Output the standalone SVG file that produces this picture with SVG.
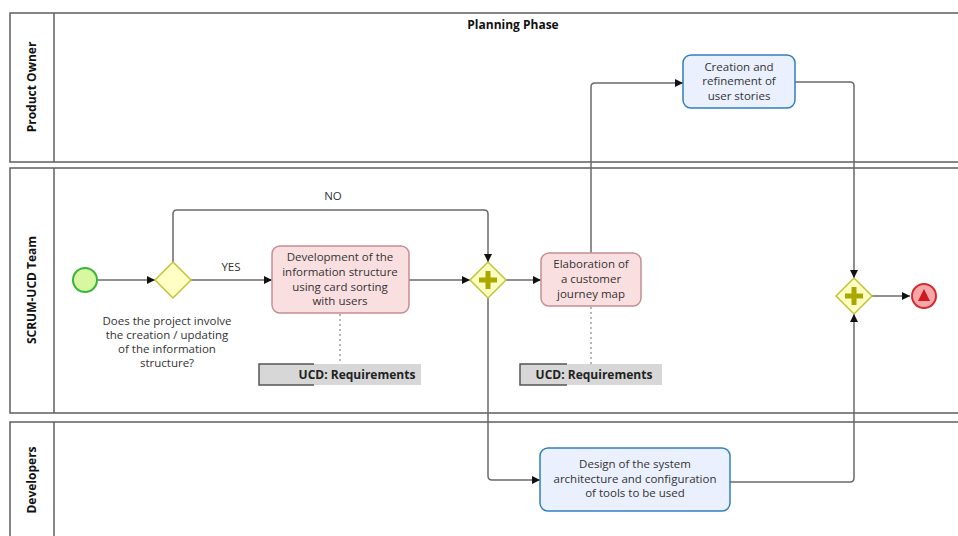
<svg xmlns="http://www.w3.org/2000/svg" width="958" height="536" viewBox="0 0 958 536">
  <style>
    .lane { fill: #ffffff; stroke: #5f5f5f; stroke-width: 1.5; }
    .lanetitle { font-family: "Open Sans", "Liberation Sans", sans-serif; font-size: 12px; font-weight: bold; fill: #111; text-anchor: middle; }
    .label { font-family: "Open Sans", "Liberation Sans", sans-serif; font-size: 11.5px; fill: #333; text-anchor: middle; }
    .task-ucd { fill: #fadfe1; stroke: #c48e92; stroke-width: 1.5; }
    .task-it { fill: #eaf0fd; stroke: #2f7fbf; stroke-width: 1.5; }
    .gw { fill: #ffffc4; stroke: #c3c33a; stroke-width: 1.5; }
    .plus { fill: #a8a800; }
    .flow { fill: none; stroke: #6a6a6a; stroke-width: 1.5; }
    .assoc { fill: none; stroke: #888; stroke-width: 1.2; stroke-dasharray: 2 3; }
    .data { fill: #d7d7d7; }
    .dataedge { fill: none; stroke: #555; stroke-width: 1.5; }
    .datatext { font-family: "Open Sans", "Liberation Sans", sans-serif; font-size: 12px; font-weight: bold; fill: #222; text-anchor: middle; }
  </style>
  <defs>
    <marker id="arrow" viewBox="0 0 10 10" refX="10" refY="5" markerWidth="8" markerHeight="8" markerUnits="userSpaceOnUse" orient="auto">
      <path d="M0,0 L10,5 L0,10 Z" fill="#111"/>
    </marker>
  </defs>

  <rect width="958" height="536" fill="#ffffff"/>

  <!-- swimlanes -->
  <g id="lane-product-owner">
    <path class="lane" d="M970,13 H10 V162 H970"/>
    <line x1="54" y1="13" x2="54" y2="162" stroke="#5f5f5f" stroke-width="1.5"/>
    <text class="lanetitle" transform="translate(36,87) rotate(-90)">Product Owner</text>
  </g>
  <g id="lane-scrum-ucd">
    <path class="lane" d="M970,168 H10 V413 H970"/>
    <line x1="54" y1="168" x2="54" y2="413" stroke="#5f5f5f" stroke-width="1.5"/>
    <text class="lanetitle" transform="translate(36,290) rotate(-90)">SCRUM-UCD Team</text>
  </g>
  <g id="lane-developers">
    <path class="lane" d="M970,422 H10 V550"/>
    <line x1="54" y1="422" x2="54" y2="550" stroke="#5f5f5f" stroke-width="1.5"/>
    <text class="lanetitle" transform="translate(36,480) rotate(-90)">Developers</text>
  </g>
  <text class="lanetitle" x="513" y="29">Planning Phase</text>

  <!-- sequence flows and associations -->
  <g id="connectors">
    <path class="flow" d="M97,280 H155" marker-end="url(#arrow)"/>
    <path class="flow" d="M191,280 H272" marker-end="url(#arrow)"/>
    <path class="flow" d="M173,262 V214 Q173,210 177,210 H484 Q488,210 488,214 V262" marker-end="url(#arrow)"/>
    <path class="flow" d="M409,280 H470" marker-end="url(#arrow)"/>
    <path class="flow" d="M506,280 H541" marker-end="url(#arrow)"/>
    <path class="flow" d="M488,298 V476 Q488,480 492,480 H540" marker-end="url(#arrow)"/>
    <path class="flow" d="M591,253 V87 Q591,83 595,83 H683" marker-end="url(#arrow)"/>
    <path class="flow" d="M795,82 H850 Q854,82 854,86 V278" marker-end="url(#arrow)"/>
    <path class="flow" d="M730,482 H850 Q854,482 854,478 V314" marker-end="url(#arrow)"/>
    <path class="flow" d="M872,296 H910" marker-end="url(#arrow)"/>
    <path class="assoc" d="M340,314 V364"/>
    <path class="assoc" d="M591,307 V364"/>
    <text class="label" x="333" y="200">NO</text>
    <text class="label" x="231" y="271">YES</text>
  </g>

  <!-- events -->
  <g id="start">
    <circle cx="85" cy="280" r="12" fill="#d8f7a0" stroke="#35b53a" stroke-width="2"/>
  </g>
  <g id="end">
    <circle cx="924" cy="296" r="12" fill="#f7a7a9" stroke="#d42a2f" stroke-width="2"/>
    <path d="M924,289 L930,301 H918 Z" fill="#cc1a1f"/>
  </g>

  <!-- gateways -->
  <g id="gw-decision">
    <path class="gw" d="M173,262 L191,280 L173,298 L155,280 Z"/>
    <text class="label" x="167" y="325">Does the project involve</text>
    <text class="label" x="167" y="339">the creation / updating</text>
    <text class="label" x="167" y="353">of the information</text>
    <text class="label" x="167" y="367">structure?</text>
  </g>
  <g id="gw-split">
    <path class="gw" d="M488,262 L506,280 L488,298 L470,280 Z"/>
    <path class="plus" d="M485.5,271 H490.5 V277.5 H497 V282.5 H490.5 V289 H485.5 V282.5 H479 V277.5 H485.5 Z"/>
  </g>
  <g id="gw-join">
    <path class="gw" d="M854,278 L872,296 L854,314 L836,296 Z"/>
    <path class="plus" d="M851.5,287 H856.5 V293.5 H863 V298.5 H856.5 V305 H851.5 V298.5 H845 V293.5 H851.5 Z"/>
  </g>

  <!-- tasks -->
  <g id="task-card-sorting">
    <rect class="task-ucd" x="272" y="246" width="137" height="67" rx="8"/>
    <text class="label" x="340" y="261">Development of the</text>
    <text class="label" x="340" y="276">information structure</text>
    <text class="label" x="340" y="291">using card sorting</text>
    <text class="label" x="340" y="305">with users</text>
  </g>
  <g id="task-journey-map">
    <rect class="task-ucd" x="541" y="253" width="100" height="53" rx="8"/>
    <text class="label" x="591" y="268">Elaboration of</text>
    <text class="label" x="591" y="283">a customer</text>
    <text class="label" x="591" y="298">journey map</text>
  </g>
  <g id="task-user-stories">
    <rect class="task-it" x="683" y="55" width="112" height="53" rx="8"/>
    <text class="label" x="739" y="71">Creation and</text>
    <text class="label" x="739" y="85">refinement of</text>
    <text class="label" x="739" y="100">user stories</text>
  </g>
  <g id="task-architecture">
    <rect class="task-it" x="540" y="448" width="190" height="63" rx="8"/>
    <text class="label" x="635" y="468">Design of the system</text>
    <text class="label" x="635" y="483">architecture and configuration</text>
    <text class="label" x="635" y="497">of tools to be used</text>
  </g>

  <!-- data annotations -->
  <g id="data-requirements-1">
    <rect class="data" x="259" y="364" width="162" height="21"/>
    <path class="dataedge" d="M314,364 H259 V385 H314"/>
    <text class="datatext" x="357" y="379">UCD: Requirements</text>
  </g>
  <g id="data-requirements-2">
    <rect class="data" x="520" y="364" width="142" height="21"/>
    <path class="dataedge" d="M567,364 H520 V385 H567"/>
    <text class="datatext" x="594" y="379">UCD: Requirements</text>
  </g>
</svg>
